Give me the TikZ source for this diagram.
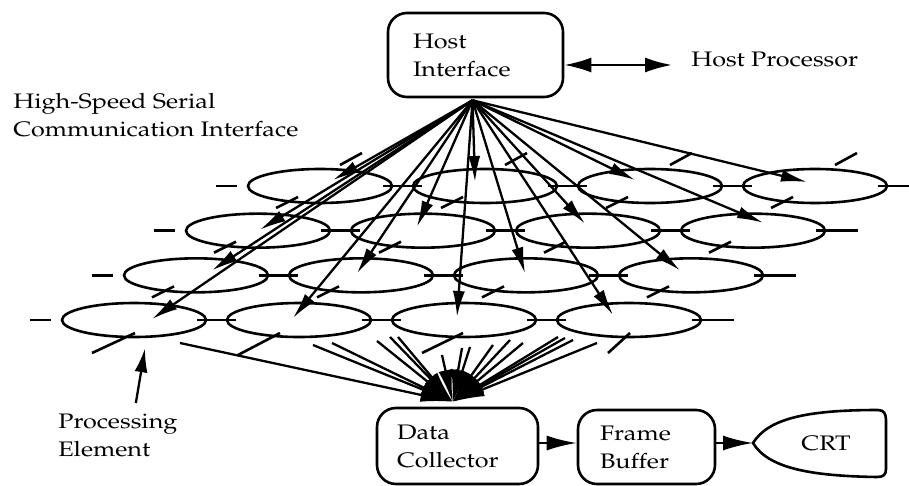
\documentclass[tikz,border=0pt]{standalone}
\usepackage[T1]{fontenc}
\renewcommand{\rmdefault}{ppl}
\usepackage{graphicx}
\usetikzlibrary{arrows.meta,shapes.geometric,calc}
% slightly widened lettering
\newcommand{\wtxt}[1]{\scalebox{1.2}[1]{#1}}
\begin{document}
\begin{tikzpicture}[x=1pt,y=-1pt,line width=2.6pt,
  txt/.style={font=\fontsize{21}{28}\selectfont, inner sep=0pt, align=left},
  boxnode/.style={draw, rounded corners=19pt, txt},
  penode/.style={draw, ellipse, minimum width=144pt, minimum height=34pt, inner sep=0pt},
  feed/.style={-{Latex[length=26pt,width=12pt]}, line width=2.3pt},
  gather/.style={-{Latex[length=32pt,width=14pt]}, line width=2.3pt},
  flow/.style={-{Latex[length=30pt,width=15pt]}, line width=2.3pt}]

\useasboundingbox[fill=white] (0,0) rectangle (909,486);

% ---- labels ----
\node[txt, anchor=north west] (hssci) at (12,92)
  {\wtxt{High-Speed Serial}\\\wtxt{Communication Interface}};
\node[txt, anchor=base west] (hp) at (690,67) {\wtxt{Host Processor}};
\node[txt, anchor=north west] (pelabel) at (57,413)
  {\wtxt{Processing}\\\wtxt{Element}};

% ---- boxes ----
\node[boxnode, minimum width=175pt, minimum height=84pt, text width=125pt] (hi)
  at (475.5,55) {\wtxt{Host}\\\wtxt{Interface}};
\node[boxnode, minimum width=161pt, minimum height=76pt, text width=121pt] (dc)
  at (457.5,446) {\wtxt{Data}\\\wtxt{Collector}};
\node[boxnode, minimum width=137pt, minimum height=74pt, text width=93pt] (fb)
  at (646.5,447) {\wtxt{Frame}\\\wtxt{Buffer}};
\node[txt] (crt) at (826,443) {\wtxt{CRT}};
\coordinate (crttip) at (753,443);
\draw (crttip) .. controls (768,419) and (805,410) .. (878,410)
  .. controls (884,410) and (886,414) .. (886,420) -- (886,469)
  .. controls (886,475) and (883,477) .. (877,477)
  .. controls (810,476) and (768,468) .. (crttip) -- cycle;

% ---- processing element array ----
\foreach \r in {1,...,4} {
  \foreach \c in {1,...,4} {
    \pgfmathsetmacro\px{320-62*(\r-1)+165*(\c-1)}
    \pgfmathsetmacro\py{186+44.67*(\r-1)}
    \node[penode] (pe-\r-\c) at (\px,\py) {};
  }
}

% row links
\foreach \r in {1,...,4} {
  \foreach \c [evaluate=\c as \n using int(\c+1)] in {1,2,3}
    \draw ($(pe-\r-\c.east)+(-10,0)$) -- ($(pe-\r-\n.west)+(10,0)$);
  \draw ($(pe-\r-1.west)+(-31,0)$) -- ($(pe-\r-1.west)+(-10,0)$);
  \draw ($(pe-\r-4.east)+(-10,0)$) -- ($(pe-\r-4.east)+(32,0)$);
}

% column links
\foreach \c in {1,...,4}
  \draw ($(pe-1-\c.center)+(20,-21)$) -- ++(22,-12);
\foreach \r in {1,2,3}
  \foreach \c in {1,...,4}
    \draw ($(pe-\r-\c.center)+(-22,11)$) -- ++(-22,11);
\draw ($(pe-4-1.center)+(1,13)$) -- ++(-43,20);
\draw ($(pe-4-2.center)+(-19,13)$) -- ++(-42,22);
\draw ($(pe-4-3.center)+(-1,13)$) -- ++(-41,20);
\draw ($(pe-4-4.center)+(1,13)$) -- ++(-22,20);

% host interface fans out to every element
\coordinate (hub) at ($(hi.south)+(-3,2)$);
\foreach \r/\c/\dx/\dy in {1/1/13/-6, 1/2/-10/-4, 1/3/-15/-6, 1/4/-8/-4,
                           2/1/2/-1, 2/2/-6/-4, 2/3/-3/-7, 2/4/10/-8,
                           3/1/16/-5, 3/2/-4/-2, 3/3/-1/-2, 3/4/-11/-5,
                           4/1/18/-1, 4/2/-6/-2, 4/3/-7/-3, 4/4/-16/-5}
  \draw[feed] (hub) -- ($(pe-\r-\c.center)+(\dx,\dy)$);

% every element feeds the data collector
\coordinate (dcin) at ($(dc.north)+(-5,-5)$);
\foreach \i/\x/\y in {1/180/343, 2/313/345, 3/332/343, 4/377/341,
                      5/390/337, 6/398/337, 7/442/355, 8/462/348,
                      9/470/347, 10/493/345, 11/510/340, 12/523/343,
                      13/558/337, 14/565/338, 15/573/340, 16/597/343} {
  \coordinate (src\i) at (\x,\y);
  \draw[gather] (src\i) -- (dcin);
}

% ---- remaining connectors ----
\draw[{Latex[length=27pt,width=15pt]}-{Latex[length=27pt,width=15pt]}, line width=2.3pt]
  ($(hi.east)+(0,10)$) -- ($(hp.base west)+(-18,-2)$);
\draw[{Latex[length=24pt,width=13pt]}-, line width=2.3pt]
  ($(pe-4-1.south)+(11,10)$) -- ($(pelabel.north)+(18,-10)$);
\draw[flow] ($(dc.east)+(0,-3)$) coordinate (dcout) -- (dcout -| fb.west);
\draw[flow] (fb.east |- crttip) -- (crttip);
\end{tikzpicture}
\end{document}
